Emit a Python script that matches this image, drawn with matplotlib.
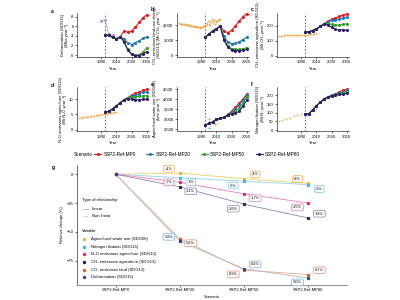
import matplotlib

matplotlib.use("Agg")
import matplotlib.pyplot as plt
from matplotlib.lines import Line2D
from matplotlib.ticker import StrMethodFormatter

plt.rcParams["font.family"] = ["Liberation Sans", "DejaVu Sans"]
plt.rcParams["axes.linewidth"] = 0.4

# ---------------------------------------------------------------------------
# Data
# ---------------------------------------------------------------------------
SCENARIOS = ["SSP2-Ref-MP0", "SSP2-Ref-MP20", "SSP2-Ref-MP50", "SSP2-Ref-MP80"]
MODEL_YEARS = [1995, 2000, 2005, 2010, 2015, 2020, 2025, 2030, 2035, 2040, 2045, 2050]

# a - deforestation (Mha/yr)
DEFOR_MP0 = [4.2, 4.1, 3.7, 3.4, 3.8, 5.0, 4.8, 5.0, 5.8, 6.8, 7.8, 8.4]
DEFOR_MP20 = [4.2, 4.1, 3.7, 3.4, 3.8, 3.4, 2.6, 2.2, 2.6, 3.0, 3.5, 3.8]
DEFOR_MP50 = [4.2, 4.1, 3.7, 3.4, 3.8, 3.0, 1.2, 0.3, 0.0, 0.1, 0.6, 1.5]
DEFOR_MP80 = [4.2, 4.1, 3.7, 3.4, 3.8, 2.8, 1.0, 0.2, -0.1, -0.1, 0.2, 0.7]
DEFOR_HIST_YEARS = [1990, 1995, 2000, 2005]
DEFOR_HIST = [7.2, 7.3, 4.4, 4.1]

# b - CO2 land-use change (Mt CO2/yr)
CO2_MP0 = [2400, 2800, 3200, 3500, 3850, 3200, 3000, 3300, 3900, 4500, 5100, 5500]
CO2_MP20 = [2400, 2800, 3200, 3500, 3850, 2500, 1800, 1500, 1600, 1800, 2100, 2400]
CO2_MP50 = [2400, 2800, 3200, 3500, 3850, 2200, 1300, 900, 800, 800, 900, 1000]
CO2_MP80 = [2400, 2800, 3200, 3500, 3850, 2000, 1100, 750, 650, 650, 700, 800]
CO2_HIST_YEARS = list(range(1961, 2016))
CO2_HIST = [
    4250, 4200, 4180, 4150, 4120, 4130, 4100, 4080, 4050, 4020,
    4000, 4010, 3980, 3950, 3960, 3900, 3920, 3880, 3850, 3870,
    3800, 3780, 3820, 3750, 3700, 3720, 3680, 3700, 3650, 3700,
    3750, 3800, 3900, 3850, 4000, 3950, 4100, 4300, 4500, 4200,
    4050, 4400, 4600, 4800, 4300, 4500, 4700, 4200, 4400, 4600,
    4500, 4700, 4800, 4650, 4850,
]

# c - CH4 agriculture (Mt CH4/yr)
CH4_MP0 = [155, 160, 168, 178, 195, 212, 230, 242, 252, 262, 270, 278]
CH4_MP20 = [155, 160, 168, 178, 195, 212, 225, 235, 240, 246, 250, 255]
CH4_MP50 = [155, 160, 168, 178, 195, 212, 215, 208, 204, 205, 208, 212]
CH4_MP80 = [155, 160, 168, 178, 195, 212, 205, 190, 175, 172, 172, 170]
CH4_HIST_YEARS = list(range(1961, 2011, 2))
CH4_HIST = [133, 134, 134, 135, 135, 136, 136, 136, 137, 137, 138, 138, 138,
            139, 139, 139, 140, 140, 141, 141, 142, 143, 145, 147, 150]

# d - N2O agriculture (Mt N2O/yr)
N2O_MP0 = [5.8, 6.0, 6.8, 7.8, 8.8, 9.8, 10.5, 11.3, 11.9, 12.4, 12.9, 13.3]
N2O_MP20 = [5.8, 6.0, 6.8, 7.8, 8.8, 9.8, 10.5, 11.0, 11.4, 11.8, 12.2, 12.5]
N2O_MP50 = [5.8, 6.0, 6.8, 7.8, 8.8, 9.8, 10.4, 10.6, 10.8, 11.0, 11.1, 11.2]
N2O_MP80 = [5.8, 6.0, 6.8, 7.8, 8.8, 9.8, 10.2, 10.0, 9.8, 9.8, 9.9, 10.0]
N2O_HIST_YEARS = list(range(1961, 2011, 2))
N2O_HIST = [3.8, 3.9, 4.0, 4.1, 4.2, 4.2, 4.3, 4.4, 4.5, 4.6, 4.6, 4.7, 4.8,
            4.8, 4.9, 5.0, 5.0, 5.1, 5.2, 5.3, 5.4, 5.5, 5.6, 5.7, 5.9]

# e - agricultural water use (km3/yr)
WATER_MP0 = [2700, 2800, 2870, 3000, 3050, 3100, 3250, 3400, 3600, 3800, 4000, 4250]
WATER_MP20 = [2700, 2800, 2870, 3000, 3050, 3100, 3220, 3350, 3500, 3700, 3950, 4200]
WATER_MP50 = [2700, 2800, 2870, 3000, 3050, 3100, 3200, 3300, 3400, 3550, 3800, 4100]
WATER_MP80 = [2700, 2800, 2870, 3000, 3050, 3100, 3200, 3280, 3300, 3400, 3650, 3950]
WATER_HIST_A_YEARS = [2000, 2008]
WATER_HIST_A = [3000, 2780]
WATER_HIST_B_YEARS = [2000]
WATER_HIST_B = [2560]

# f - nitrogen fixation (Mt N2/yr)
NFIX_MP0 = [92, 95, 115, 140, 160, 178, 190, 200, 208, 220, 228, 235]
NFIX_MP20 = [92, 95, 115, 140, 160, 178, 190, 200, 205, 214, 220, 228]
NFIX_MP50 = [92, 95, 115, 140, 160, 178, 190, 198, 203, 210, 216, 222]
NFIX_MP80 = [92, 95, 115, 140, 160, 178, 190, 196, 200, 205, 208, 212]
NFIX_HIST_YEARS = [1961, 1965, 1970, 1975, 1980, 1985, 1990, 1995, 2000, 2005, 2010]
NFIX_HIST = [50, 58, 65, 72, 80, 85, 90, 93, 100, 110, 122]

# g - relative change vs SSP2-Ref-MP0 (%)
REL_WATER = [0, 1, -4, -8]
REL_NFIX = [0, -3, -6, -9]
REL_N2O = [0, -7, -17, -25]
REL_CH4 = [0, -11, -26, -38]
REL_CO2 = [0, -56, -83, -87]
REL_DEFOR = [0, -58, -82, -90]
VARIABLES = [
    "Agricultural water use (SDG06)",
    "Nitrogen fixation (SDG15)",
    "N₂O emissions agriculture (SDG13)",
    "CH₄ emissions agriculture (SDG13)",
    "CO₂ emissions land (SDG13)",
    "Deforestation (SDG15)",
]

# ---------------------------------------------------------------------------
# Styling
# ---------------------------------------------------------------------------
SCEN_COLOURS = ["#e31a1c", "#1f78b4", "#33a02c", "#2d1b69"]
HIST_ORANGE = "#f5a84c"
FS = 3.0


def style_axis(ax):
    for side in ("top", "right"):
        ax.spines[side].set_visible(False)
    ax.tick_params(labelsize=FS, length=1.5, width=0.4, pad=1)


def draw_panel(ax, scen_series, ylabel, ylim, yticks, thousands=False):
    for vals, colour in zip(scen_series, SCEN_COLOURS):
        ax.plot(MODEL_YEARS, vals, color=colour, lw=0.8, marker="o", ms=1.2, zorder=3)
    ax.axvline(1995, color="0.35", ls=(0, (2, 2)), lw=0.6, zorder=1)
    ax.set_xlim(1958, 2053)
    ax.set_xticks([1990, 2010, 2030, 2050])
    ax.set_ylim(*ylim)
    ax.set_yticks(yticks)
    if thousands:
        ax.yaxis.set_major_formatter(StrMethodFormatter("{x:,.0f}"))
    ax.set_xlabel("Year", fontsize=FS, labelpad=1.5)
    ax.set_ylabel(ylabel, fontsize=FS, labelpad=1.5, linespacing=1.1)
    style_axis(ax)


fig = plt.figure(figsize=(4, 3), dpi=100)

col_left = [0.1925, 0.4425, 0.6925]
w, h = 0.18, 0.147
ax_a = fig.add_axes([col_left[0], 0.81, w, h])
ax_b = fig.add_axes([col_left[1], 0.81, w, h])
ax_c = fig.add_axes([col_left[2], 0.81, w, h])
ax_d = fig.add_axes([col_left[0], 0.563, w, h])
ax_e = fig.add_axes([col_left[1], 0.563, w, h])
ax_f = fig.add_axes([col_left[2], 0.563, w, h])

draw_panel(ax_a, [DEFOR_MP0, DEFOR_MP20, DEFOR_MP50, DEFOR_MP80],
           "Deforestation (SDG15)\n(Mha year⁻¹)", (-0.4, 8.8), [0, 2, 4, 6, 8])
ax_a.plot(DEFOR_HIST_YEARS, DEFOR_HIST, color="#a89cc8", lw=0.6, marker="x", ms=1.5, zorder=2)

draw_panel(ax_b, [CO2_MP0, CO2_MP20, CO2_MP50, CO2_MP80],
           "CO₂ emissions land-use change\n(SDG13) (Mt CO₂ year⁻¹)", (-200, 5600),
           [0, 2000, 4000], thousands=True)
ax_b.plot(CO2_HIST_YEARS, CO2_HIST, ls="none", color=HIST_ORANGE, marker="+", ms=2, mew=0.5)

draw_panel(ax_c, [CH4_MP0, CH4_MP20, CH4_MP50, CH4_MP80],
           "CH₄ emissions agriculture (SDG13)\n(Mt CH₄ year⁻¹)", (-8, 285), [0, 100, 200])
ax_c.plot(CH4_HIST_YEARS, CH4_HIST, ls="none", color=HIST_ORANGE, marker="+", ms=2, mew=0.5)

draw_panel(ax_d, [N2O_MP0, N2O_MP20, N2O_MP50, N2O_MP80],
           "N₂O emissions agriculture (SDG13)\n(Mt N₂O year⁻¹)", (-0.5, 14), [0, 5, 10])
ax_d.plot(N2O_HIST_YEARS, N2O_HIST, ls="none", color=HIST_ORANGE, marker="+", ms=2, mew=0.5)

draw_panel(ax_e, [WATER_MP0, WATER_MP20, WATER_MP50, WATER_MP80],
           "Agricultural water use (SDG06)\n(km³ year⁻¹)", (2420, 4600),
           [2500, 3000, 3500, 4000, 4500], thousands=True)
ax_e.plot(WATER_HIST_A_YEARS, WATER_HIST_A, ls="none", color=HIST_ORANGE, marker="+", ms=2.5, mew=0.5)
ax_e.plot(WATER_HIST_B_YEARS, WATER_HIST_B, ls="none", color="#6cc3e6", marker="+", ms=2.5, mew=0.5)

draw_panel(ax_f, [NFIX_MP0, NFIX_MP20, NFIX_MP50, NFIX_MP80],
           "Nitrogen fixation (SDG15)\n(Mt N₂ year⁻¹)", (-6, 248), [0, 50, 100, 150, 200])
ax_f.plot(NFIX_HIST_YEARS, NFIX_HIST, ls="none", color=HIST_ORANGE, marker="+", ms=2, mew=0.5)

for letter, x, y in [("a", 0.13, 0.962), ("b", 0.38, 0.968), ("c", 0.63, 0.968),
                     ("d", 0.13, 0.715), ("e", 0.38, 0.72), ("f", 0.63, 0.72),
                     ("g", 0.1325, 0.443)]:
    fig.text(x, y, letter, fontsize=3.6, fontweight="bold", ha="center", va="center")

# scenario legend
fig.text(0.2075, 1 - 154 / 300, "Scenario", fontsize=3.4, ha="center", va="center")
handles = [Line2D([], [], color=c, lw=0.8, marker="o", ms=1.2) for c in SCEN_COLOURS]
fig.legend(handles, SCENARIOS, loc="center left", bbox_to_anchor=(0.235, 1 - 154 / 300),
           ncol=4, frameon=False, fontsize=3.4, handlelength=1.5, handletextpad=0.5,
           columnspacing=2.2, borderaxespad=0, borderpad=0)

# ---------------------------------------------------------------------------
# Panel g
# ---------------------------------------------------------------------------
ax_g = fig.add_axes([0.1925, 0.05, 0.675, 0.4])
rel_series = [REL_WATER, REL_NFIX, REL_N2O, REL_CH4, REL_CO2, REL_DEFOR]
point_colours = ["#f2b134", "#3db7e4", "#e3297f", "#2b1f66", "#e8532b", "#1f4e9a"]
line_colours = ["#f2d060", "#8fd3ee", "#ec7fb4", "#8f85b5", "#e9a990", "#b8b4c0"]
box_colours = ["#f2a93b", "#70c0e8", "#e676b0", "#8a7fb0", "#f08a70", "#70b0e0"]
line_styles = ["-", "-", "-", "-", "-", "-"]
# label placement per point (MP20, MP50, MP80): dx sign, dy sign
placements = [
    [(-1, 1), (1, 1), (-1, 1)],
    [(1, -1), (-1, -1), (1, -1)],
    [(-1, 0), (1, -1), (-1, -1)],
    [(1, -1), (-1, -1), (1, 1)],
    [(1, -1), (-1, -1), (1, 1)],
    [(-1, 1), (1, 1), (-1, -1)],
]
xpos = list(range(len(SCENARIOS)))
for vals, pc, lc, bc, ls, place in zip(rel_series, point_colours, line_colours,
                                       box_colours, line_styles, placements):
    ax_g.plot(xpos, vals, color=lc, lw=0.6, ls=ls, zorder=2)
    ax_g.plot(xpos, vals, ls="none", marker="s", ms=1.3, color=pc, zorder=3)
    for xi, v, (sx, sy) in zip(xpos[1:], vals[1:], place):
        ax_g.text(xi + sx * 0.17, v + sy * 3.8, f"{v:+d}%", fontsize=2.8,
                  ha="center", va="center", zorder=4,
                  bbox=dict(boxstyle="round,pad=0.35", fc="white", ec=bc, lw=0.5))

ax_g.set_xlim(-0.6, 3.6)
ax_g.set_ylim(-96, 8)
ax_g.set_xticks(xpos)
ax_g.set_xticklabels(SCENARIOS)
ax_g.set_yticks([0, -25, -50, -75])
ax_g.set_xlabel("Scenario", fontsize=FS, labelpad=1.5)
ax_g.set_ylabel("Relative change (%)", fontsize=FS, labelpad=2)
style_axis(ax_g)
ax_g.spines["bottom"].set_color("0.6")
ax_g.spines["bottom"].set_linewidth(0.8)

# legend inside panel g
tr = ax_g.transAxes
ax_g.text(0.018, 0.708, "Type of relationship", fontsize=FS, transform=tr, va="center")
ax_g.plot([0.022, 0.041], [0.633, 0.633], color="0.6", lw=0.5, transform=tr)
ax_g.text(0.056, 0.633, "Linear", fontsize=FS, transform=tr, va="center")
ax_g.plot([0.022, 0.041], [0.575, 0.575], color="0.6", lw=0.5, ls=(0, (1, 1)), transform=tr)
ax_g.text(0.056, 0.575, "Non linear", fontsize=FS, transform=tr, va="center")
ax_g.text(0.018, 0.45, "Variable", fontsize=FS, transform=tr, va="center")
for i, (name, pc) in enumerate(zip(VARIABLES, point_colours)):
    yy = 0.383 - i * 0.0635
    ax_g.plot([0.026], [yy], marker="o", ms=1.5, color=pc, transform=tr)
    ax_g.text(0.052, yy, name, fontsize=FS, transform=tr, va="center")

fig.savefig("out.png", dpi=100)
